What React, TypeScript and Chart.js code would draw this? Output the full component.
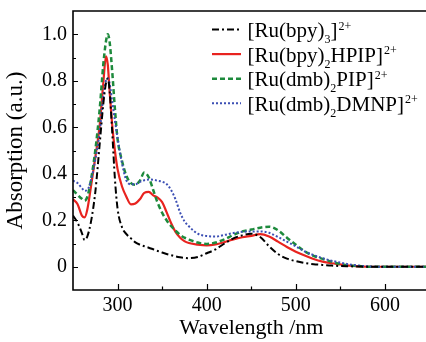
import { useEffect, useRef } from "react";
import { Chart, registerables } from "chart.js";
Chart.register(...registerables);

const wavelengths = [250,255,260,263,266,270,275,280,284,287,289,291,294,297,300,305,310,315,320,325,330,335,340,345,350,355,360,365,370,375,380,390,400,410,420,430,440,450,460,470,480,490,500,510,520,530,540,550,560,570,580,590,600,620,650];

const bpy3 = [0.22,0.19,0.145,0.115,0.13,0.19,0.32,0.53,0.70,0.79,0.81,0.76,0.58,0.38,0.25,0.17,0.14,0.122,0.105,0.095,0.088,0.082,0.075,0.068,0.061,0.055,0.05,0.045,0.041,0.038,0.037,0.042,0.058,0.075,0.10,0.122,0.135,0.142,0.128,0.088,0.055,0.035,0.024,0.016,0.011,0.008,0.005,0.003,0.002,0.001,0,0,0,0,0];

const bpy2HPIP = [0.29,0.27,0.22,0.212,0.245,0.34,0.47,0.61,0.79,0.905,0.87,0.76,0.61,0.50,0.42,0.345,0.30,0.268,0.272,0.29,0.318,0.322,0.307,0.297,0.278,0.235,0.188,0.15,0.126,0.11,0.102,0.095,0.092,0.096,0.106,0.118,0.127,0.133,0.14,0.13,0.108,0.085,0.065,0.048,0.033,0.022,0.015,0.01,0.005,0.002,0,0,0,0,0];

const dmb2PIP = [0.33,0.31,0.292,0.285,0.30,0.37,0.50,0.68,0.87,0.97,1.0,0.97,0.84,0.68,0.55,0.455,0.39,0.36,0.353,0.37,0.405,0.385,0.33,0.275,0.232,0.20,0.175,0.155,0.138,0.125,0.117,0.104,0.098,0.104,0.118,0.137,0.152,0.16,0.168,0.172,0.157,0.125,0.095,0.066,0.047,0.034,0.022,0.012,0.006,0.003,0,0,0,0,0];

const dmb2DMNP = [0.37,0.36,0.338,0.327,0.33,0.37,0.46,0.58,0.73,0.80,0.81,0.79,0.71,0.63,0.555,0.445,0.37,0.355,0.355,0.365,0.372,0.375,0.374,0.37,0.366,0.356,0.33,0.29,0.235,0.196,0.174,0.142,0.132,0.13,0.137,0.145,0.15,0.152,0.152,0.146,0.128,0.108,0.088,0.066,0.05,0.037,0.026,0.018,0.01,0.005,0.002,0,0,0,0];

const xTickValues = [300, 400, 500, 600];
const xMinorTicks = [350, 450, 550];
const yTickValues = [0, 0.2, 0.4, 0.6, 0.8, 1.0];
const yTickLabels = ["0", "0.2", "0.4", "0.6", "0.8", "1.0"];
const yMinorTicks = [0.1, 0.3, 0.5, 0.7, 0.9];

const legendLabels: [string, string][][] = [
  [["[Ru(bpy)", "n"], ["3", "sub"], ["]", "n"], ["2+", "sup"]],
  [["[Ru(bpy)", "n"], ["2", "sub"], ["HPIP]", "n"], ["2+", "sup"]],
  [["[Ru(dmb)", "n"], ["2", "sub"], ["PIP]", "n"], ["2+", "sup"]],
  [["[Ru(dmb)", "n"], ["2", "sub"], ["DMNP]", "n"], ["2+", "sup"]],
];

const FONT = "'Liberation Serif', 'Times New Roman', serif";

const styles = [
  { color: "#000000", width: 2, dash: [7, 3, 2, 3] },
  { color: "#e8231f", width: 2.2, dash: [] as number[] },
  { color: "#1d8a3c", width: 2.5, dash: [5, 3] },
  { color: "#3c4fb4", width: 2, dash: [2, 2] },
];

const seriesValues = [bpy3, bpy2HPIP, dmb2PIP, dmb2DMNP];

const framePlugin = {
  id: "frame",
  afterDraw(chart: any) {
    const { ctx, chartArea: a, scales } = chart;
    const x = scales.x, y = scales.y;
    ctx.save();
    ctx.strokeStyle = "#000";
    ctx.lineWidth = 1.6;
    ctx.setLineDash([]);
    ctx.beginPath();
    ctx.moveTo(a.right + 10, a.top);
    ctx.lineTo(a.left, a.top);
    ctx.lineTo(a.left, a.bottom);
    ctx.lineTo(a.right + 10, a.bottom);
    ctx.stroke();
    ctx.lineWidth = 1.2;
    ctx.beginPath();
    for (const v of xTickValues) {
      const px = Math.round(x.getPixelForValue(v)) + 0.5;
      ctx.moveTo(px, a.bottom);
      ctx.lineTo(px, a.bottom - 6);
    }
    for (const v of xMinorTicks) {
      const px = Math.round(x.getPixelForValue(v)) + 0.5;
      ctx.moveTo(px, a.bottom);
      ctx.lineTo(px, a.bottom - 3.5);
    }
    for (const v of yTickValues) {
      const py = Math.round(y.getPixelForValue(v)) + 0.5;
      ctx.moveTo(a.left, py);
      ctx.lineTo(a.left + 5, py);
    }
    for (const v of yMinorTicks) {
      const py = Math.round(y.getPixelForValue(v)) + 0.5;
      ctx.moveTo(a.left, py);
      ctx.lineTo(a.left + 3, py);
    }
    ctx.stroke();

    // legend
    for (let i = 0; i < legendLabels.length; i++) {
      const lineY = 29.5 + i * 24.6;
      const st = styles[i];
      ctx.strokeStyle = st.color;
      ctx.lineWidth = st.width;
      ctx.setLineDash(st.dash);
      ctx.beginPath();
      ctx.moveTo(212, lineY);
      ctx.lineTo(241, lineY);
      ctx.stroke();
      ctx.setLineDash([]);
      let tx = 247.5;
      const base = lineY + 7.5;
      ctx.fillStyle = "#000";
      ctx.textBaseline = "alphabetic";
      ctx.textAlign = "left";
      for (const [txt, kind] of legendLabels[i]) {
        if (kind === "n") {
          ctx.font = `21px ${FONT}`;
          ctx.fillText(txt, tx, base);
        } else if (kind === "sub") {
          ctx.font = `12px ${FONT}`;
          ctx.fillText(txt, tx, base + 6);
        } else {
          ctx.font = `12px ${FONT}`;
          ctx.fillText(txt, tx + 1, base - 7.5);
        }
        tx += ctx.measureText(txt).width + (kind === "sup" ? 1 : 0);
      }
    }
    ctx.restore();
  },
};

export default function App() {
  const ref = useRef<HTMLCanvasElement>(null);
  useEffect(() => {
    if (!ref.current) return;
    const order = [0, 3, 2, 1];
    const datasets = order.map((i) => ({
      label: `s${i}`,
      data: wavelengths.map((w, k) => ({ x: w, y: seriesValues[i][k] })),
      borderColor: styles[i].color,
      borderWidth: styles[i].width,
      borderDash: styles[i].dash,
      pointRadius: 0,
      fill: false,
      cubicInterpolationMode: "monotone" as const,
    }));
    const chart = new Chart(ref.current, {
      type: "line",
      data: { datasets },
      options: {
        animation: false,
        responsive: false,
        maintainAspectRatio: false,
        layout: { padding: { top: 11, right: 2.5, left: 0, bottom: 0 } },
        plugins: { legend: { display: false }, tooltip: { enabled: false } },
        scales: {
          x: {
            type: "linear",
            min: 250,
            max: 650,
            grid: { display: false, drawTicks: false },
            border: { display: false },
            ticks: {
              font: { family: FONT, size: 20 },
              color: "#000",
              padding: 4,
              maxRotation: 0,
              autoSkip: false,
              callback: (v: any) => String(v),
            },
            afterBuildTicks: (s: any) => {
              s.ticks = xTickValues.map((v) => ({ value: v }));
            },
            afterFit: (s: any) => {
              s.height = 52;
              s.paddingLeft = 0;
              s.paddingRight = 0;
            },
            title: {
              display: true,
              text: "Wavelength /nm",
              font: { family: FONT, size: 22 },
              color: "#000",
              padding: { top: 0, bottom: 1 },
            },
          },
          y: {
            type: "linear",
            min: -0.1,
            max: 1.1,
            grid: { display: false, drawTicks: false },
            border: { display: false },
            ticks: {
              font: { family: FONT, size: 20 },
              color: "#000",
              padding: 6,
              autoSkip: false,
              callback: (v: any) => {
                const idx = yTickValues.indexOf(v);
                return idx >= 0 ? yTickLabels[idx] : "";
              },
            },
            afterBuildTicks: (s: any) => {
              s.ticks = yTickValues.map((v) => ({ value: v }));
            },
            afterFit: (s: any) => {
              s.width = 73;
              s.paddingTop = 0;
              s.paddingBottom = 0;
            },
            title: {
              display: true,
              text: "Absorption (a.u.)",
              font: { family: FONT, size: 23 },
              color: "#000",
              padding: { top: 1.7, bottom: 0 },
            },
          },
        },
      },
      plugins: [framePlugin],
    });
    return () => chart.destroy();
  }, []);
  return (
    <div style={{ position: "fixed", left: 0, top: 0, width: 426, height: 342, overflow: "hidden", background: "#fff" }}>
      <canvas ref={ref} width={432} height={342} style={{ display: "block" }} />
    </div>
  );
}
